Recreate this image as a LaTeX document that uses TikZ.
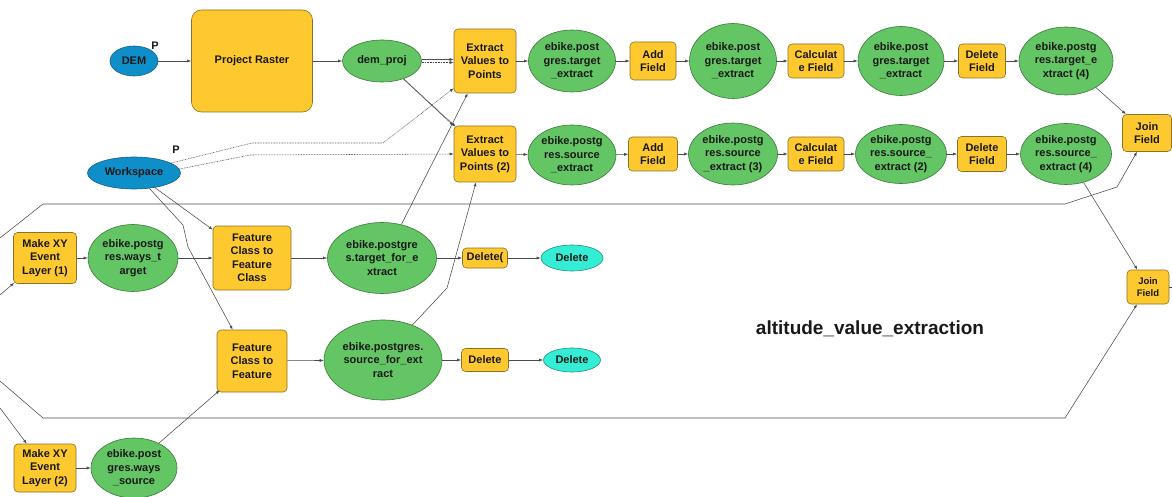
\documentclass[tikz,border=0pt]{standalone}
\usepackage{fontspec}
\setmainfont{Liberation Sans}
\usetikzlibrary{shapes.geometric,arrows.meta}
\definecolor{toolc}{HTML}{FEC92F}
\definecolor{toolb}{HTML}{8A7226}
\definecolor{datac}{HTML}{63C563}
\definecolor{datab}{HTML}{3A7A3A}
\definecolor{varc}{HTML}{0E8FC9}
\definecolor{varb}{HTML}{1B5C82}
\definecolor{cyc}{HTML}{33EED4}
\definecolor{cyb}{HTML}{2A8E80}
\definecolor{lc}{HTML}{4A4A4A}
\begin{document}
\begin{tikzpicture}[x=1pt,y=-1pt,
  every node/.style={font=\fontsize{11}{13.5}\selectfont\bfseries, align=center, inner sep=0pt, text=black!90},
  sz/.style 2 args={minimum width=#1pt, minimum height=#2pt},
  tool/.style={draw=toolb, fill=toolc, rounded corners=4pt, line width=0.6pt},
  data/.style={ellipse, draw=datab, fill=datac, line width=0.6pt},
  invar/.style={ellipse, draw=varb, fill=varc, line width=0.6pt},
  cyanv/.style={ellipse, draw=cyb, fill=cyc, line width=0.6pt},
  conn/.style={draw=lc, line width=0.55pt, -{Latex[length=4pt,width=3pt]}},
  dotl/.style={dash pattern=on 0.8pt off 0.8pt},
  plainl/.style={draw=lc, line width=0.55pt}]
\useasboundingbox (0,0) rectangle (1172,497);
\fill[white] (0,0) rectangle (1172,497);

% ---------- nodes ----------
\node[invar, sz={48}{30}] (dem) at (134,61) {DEM};
\node (pdem) at (155,46) {P};
\node[tool, sz={121}{102}, rounded corners=10pt] (pr) at (252,61) {Project Raster};
\node[data, sz={79}{42}] (demp) at (382,61) {dem\_proj};
\node[invar, sz={93}{32}] (ws) at (134,173) {Workspace};
\node (pws) at (176,150) {P};

\node[tool, sz={62}{64}] (ex1) at (485,61) {Extract\\Values to\\Points};
\node[tool, sz={62}{56}] (ex2) at (485,154) {Extract\\Values to\\Points (2)};

\node[data, sz={87}{62}] (te1) at (572,61) {ebike.post\\gres.target\\\_extract};
\node[tool, sz={46}{38}] (af1) at (653,61) {Add\\Field};
\node[data, sz={87}{75}] (te2) at (733,61) {ebike.post\\gres.target\\\_extract};
\node[tool, sz={56}{34}] (cf1) at (816,61) {Calculat\\e Field};
\node[data, sz={86}{69}] (te3) at (901,61) {ebike.post\\gres.target\\\_extract};
\node[tool, sz={47}{34}] (df1) at (982,61) {Delete\\Field};
\node[data, sz={94}{68}] (te4) at (1066,61) {ebike.postg\\res.target\_e\\xtract (4)};
\node[tool, sz={49}{37}] (jf1) at (1147,133) {Join\\Field};

\node[data, sz={88}{60}] (se1) at (572,155) {ebike.postg\\res.source\\\_extract};
\node[tool, sz={49}{34}] (af2) at (653,154) {Add\\Field};
\node[data, sz={89}{62}] (se2) at (733,154) {ebike.postg\\res.source\\\_extract (3)};
\node[tool, sz={56}{34}] (cf2) at (816,154) {Calculat\\e Field};
\node[data, sz={91}{59}] (se3) at (901,154) {ebike.postg\\res.source\_\\extract (2)};
\node[tool, sz={49}{35}] (df2) at (982,154) {Delete\\Field};
\node[data, sz={91}{61}] (se4) at (1066,154) {ebike.postg\\res.source\_\\extract (4)};
\node[tool, sz={42}{34}, font=\fontsize{9.5}{11.5}\selectfont\bfseries] (jf2) at (1148,287) {Join\\Field};

\node[tool, sz={63}{51}] (mxy1) at (45,258) {Make XY\\Event\\Layer (1)};
\node[data, sz={90}{67}] (wt) at (133,258) {ebike.postg\\res.ways\_t\\arget};
\node[tool, sz={78}{64}] (fc2fc) at (252,258) {Feature\\Class to\\Feature\\Class};
\node[data, sz={109}{71}] (tfe) at (382,258) {ebike.postgre\\s.target\_for\_e\\xtract};
\node[tool, sz={45}{20}] (del1) at (485,258) {Delete(};
\node[cyanv, sz={62}{26}] (dele1) at (572,258) {Delete};

\node[tool, sz={70}{62}] (fc2f) at (252,361) {Feature\\Class to\\Feature};
\node[data, sz={118}{80}] (sfe) at (383,360) {ebike.postgres.\\source\_for\_ext\\ract};
\node[tool, sz={47}{23}] (del2) at (485,360) {Delete};
\node[cyanv, sz={57}{24}] (dele2) at (572,360) {Delete};

\node[tool, sz={62}{48}] (mxy2) at (45,468) {Make XY\\Event\\Layer (2)};
\node[data, sz={86}{60}] (ws2) at (134,468) {ebike.post\\gres.ways\\\_source};

\node[font=\fontsize{19}{22}\selectfont\bfseries] (title) at (870,329) {altitude\_value\_extraction};

\coordinate (in1) at (0,238);
\coordinate (in2) at (0,381);
\coordinate (in3) at (0,295);
\coordinate (in4) at (0,408);
\coordinate (out1) at (1172,287);

% ---------- connectors ----------
\draw[conn] (dem) -- (pr);
\draw[conn] (pr) -- (demp);
\draw[conn] ([yshift=1.5pt]demp.east) -- ([yshift=1.5pt]ex1.west);
\draw[conn,dotl] ([yshift=-1.5pt]demp.east) -- ([yshift=-1.5pt]ex1.west);
\draw[conn] (demp.-40) -- (ex2.north west);
\draw[conn,dotl] ([xshift=2pt]demp.-42) -- ([xshift=2pt,yshift=-1pt]ex2.north west);
\draw[conn,dotl] (ws.15) -- (252,143) -- (383,143) -- ([yshift=5pt]ex1.south west);
\draw[conn,dotl] (ws.5) -- (250,155) -- (ex2.west);
\draw[conn] (ws.-35) -- ([yshift=-4pt]fc2fc.north west);
\draw[conn] (ws.-45) -- (183,225) -- (188,247) -- ([xshift=16pt]fc2f.north west);

\draw[conn] (mxy1) -- (wt);
\draw[conn] (wt) -- (fc2fc);
\draw[conn] (fc2fc) -- (tfe);
\draw[conn] (tfe.60) -- ([xshift=14pt]ex1.south west);
\draw[conn] (tfe) -- (del1);
\draw[conn] (del1) -- (dele1);
\draw[conn] (fc2f) -- (sfe);
\draw[conn] (sfe) -- (del2);
\draw[conn] (del2) -- (dele2);
\draw[conn] (sfe.50) -- (447,288) -- ([xshift=-9pt]ex2.south);
\draw[conn] (ws2.45) -- ([xshift=3pt,yshift=2pt]fc2f.south west);
\draw[conn] (mxy2) -- (ws2);

\draw[conn] (ex1) -- (te1);
\draw[conn] (te1) -- (af1);
\draw[conn] (af1) -- (te2);
\draw[conn] (te2) -- (cf1);
\draw[conn] (cf1) -- (te3);
\draw[conn] (te3) -- (df1);
\draw[conn] (df1) -- (te4);
\draw[conn] (te4) -- (jf1);

\draw[conn] (ex2) -- (se1);
\draw[conn] (se1) -- (af2);
\draw[conn] (af2) -- (se2);
\draw[conn] (se2) -- (cf2);
\draw[conn] (cf2) -- (se3);
\draw[conn] (se3) -- (df2);
\draw[conn] (df2) -- (se4);
\draw[conn] (se4) -- (jf2);

\draw[conn] (in1) -- (43,204) -- (1065,204) -- (1117,187) -- ([xshift=-10pt]jf1.south);
\draw[conn] (in2) -- (43,418) -- (1065,418) -- ([xshift=-11pt]jf2.south);
\draw[conn] (in3) -- ([xshift=1pt,yshift=1pt]mxy1.south west);
\draw[conn] (in4) -- ([xshift=13pt]mxy2.north west);
\draw[plainl] (jf2.east) -- (out1);
\end{tikzpicture}
\end{document}
